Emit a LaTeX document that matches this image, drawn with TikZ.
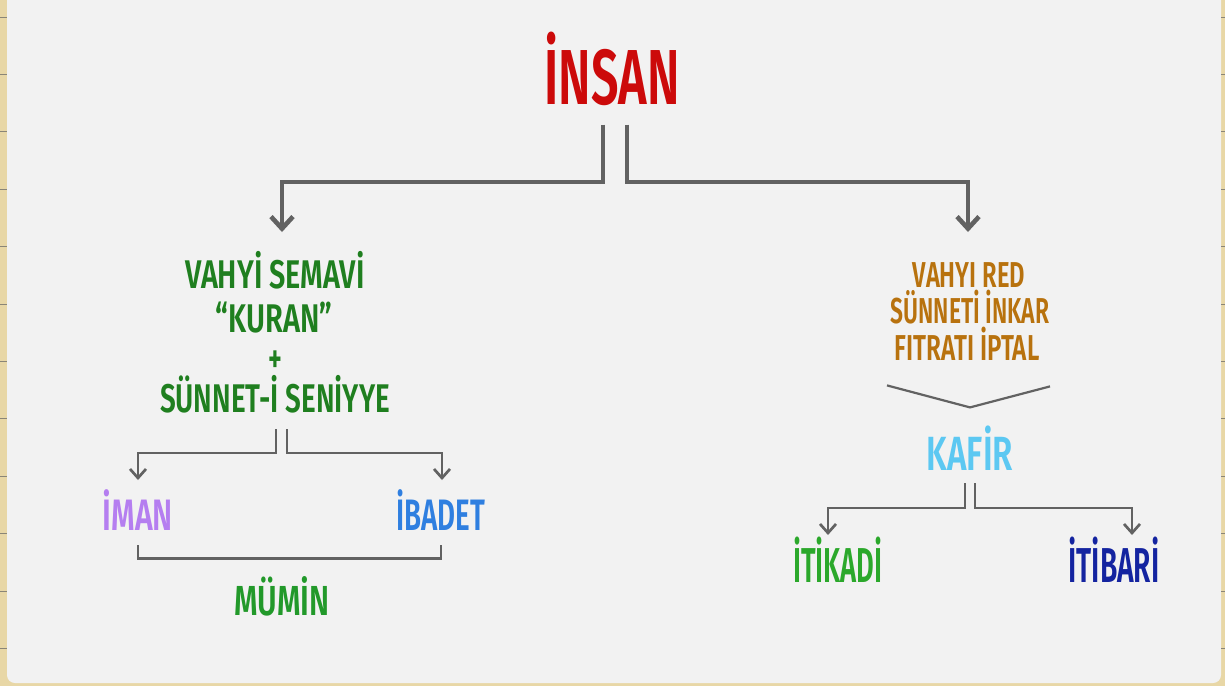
\documentclass[tikz,border=0pt]{standalone}
\usepackage{fontspec}
\setmainfont{Fira Sans}[FakeStretch=0.6, BoldFont={Fira Sans SemiBold}]
\usetikzlibrary{arrows.meta,calc}
\definecolor{bgc}{HTML}{E8D7A6}
\definecolor{panel}{HTML}{F2F2F2}
\definecolor{lgray}{HTML}{626262}
\definecolor{tick}{HTML}{8A8577}
\definecolor{cinsan}{HTML}{CC0A0A}
\definecolor{cgreen}{HTML}{1F7F1F}
\definecolor{cbrown}{HTML}{B8720E}
\definecolor{ckafir}{HTML}{5CC8F2}
\definecolor{ciman}{HTML}{B57EF0}
\definecolor{cibadet}{HTML}{2F7FE0}
\definecolor{cmumin}{HTML}{22992A}
\definecolor{citikadi}{HTML}{2BA82B}
\definecolor{citibari}{HTML}{1424A0}
\newcommand{\hs}[2]{\scalebox{#1}[1]{#2}}
\tikzset{
  lbl/.style={inner sep=0pt, anchor=base, font=\bfseries},
  bigconn/.style={draw=lgray, line width=2.3pt, -{Straight Barb[length=6pt,width=11pt]}},
  midconn/.style={draw=lgray, line width=1.35pt, -{Straight Barb[length=4.5pt,width=8pt]}},
  plainline/.style={draw=lgray, line width=1.2pt},
}
\begin{document}
\begin{tikzpicture}[x=0.5pt,y=-0.5pt]
\useasboundingbox (0,0) rectangle (1225,686);
\fill[bgc] (0,0) rectangle (1225,686);
\begin{scope}
\clip (0,0) rectangle (1225,686);
\fill[panel, rounded corners=4pt] (7,-10) rectangle (1221,683);
\end{scope}
\foreach \k in {0,...,11} {
  \draw[tick, line width=0.5pt] (0,17+57.4*\k) -- (7,17+57.4*\k);
  \draw[tick, line width=0.5pt] (1221,17+57.4*\k) -- (1225,17+57.4*\k);
}

% nodes
\node[lbl, text=cinsan, font=\bfseries\fontsize{39}{39}\selectfont] (insan) at (612,104) {\hs{1.04}{İNSAN}};
\node[lbl, text=cgreen, font=\bfseries\fontsize{20}{20}\selectfont] (v1) at (275,288) {\hs{1.2}{VAHYİ SEMAVİ}};
\node[lbl, text=cgreen, font=\bfseries\fontsize{20}{20}\selectfont] (v2) at (274,332) {\hs{1.21}{“KURAN”}};
\node[lbl, text=cgreen, font=\bfseries\fontsize{20}{20}\selectfont, text height=6pt] (v3) at (275,372) {\hs{1.1}{+}};
\node[lbl, text=cgreen, font=\bfseries\fontsize{20}{20}\selectfont] (v4) at (275,412) {\hs{1.16}{SÜNNET-İ SENİYYE}};
\node[lbl, text=cbrown, font=\bfseries\fontsize{18}{18}\selectfont] (r1) at (969,287) {\hs{1.1}{VAHYI RED}};
\node[lbl, text=cbrown, font=\bfseries\fontsize{18}{18}\selectfont] (r2) at (970,323) {\hs{1.06}{SÜNNETİ İNKAR}};
\node[lbl, text=cbrown, font=\bfseries\fontsize{18}{18}\selectfont] (r3) at (967,360) {\hs{1.12}{FITRATI İPTAL}};
\node[lbl, text=ckafir, font=\bfseries\fontsize{24}{24}\selectfont] (kafir) at (970,470) {\hs{1.15}{KAFİR}};
\node[lbl, text=ciman, font=\bfseries\fontsize{22}{22}\selectfont] (iman) at (138,530) {\hs{1.14}{İMAN}};
\node[lbl, text=cibadet, font=\bfseries\fontsize{22}{22}\selectfont] (ibadet) at (441,530) {\hs{1.05}{İBADET}};
\node[lbl, text=cmumin, font=\bfseries\fontsize{21}{21}\selectfont] (mumin) at (282,615) {\hs{1.19}{MÜMİN}};
\node[lbl, text=citikadi, font=\bfseries\fontsize{24.5}{24.5}\selectfont] (itikadi) at (838,582) {\hs{0.93}{İTİKADİ}};
\node[lbl, text=citibari, font=\bfseries\fontsize{24.5}{24.5}\selectfont] (itibari) at (1114,582) {\hs{0.96}{İTİBARİ}};

% arrow tips
\coordinate (tL) at (282,232);
\coordinate (tR) at (968,232);
\coordinate (tI) at (138,480);
\coordinate (tB) at (442,480);
\coordinate (tK) at (828,535);
\coordinate (tT) at (1132,535);

% İNSAN branches
\draw[bigconn] ([xshift=-4.5pt,yshift=-9.5pt]insan.south) |- ($(tL)+(0,-50)$) -- (tL);
\draw[bigconn] ([xshift=7.5pt,yshift=-9.5pt]insan.south) |- ($(tR)+(0,-50)$) -- (tR);

% SÜNNET branches
\draw[midconn] ([xshift=0.5pt,yshift=-8pt]v4.south) |- ($(tI)+(0,-27)$) -- (tI);
\draw[midconn] ([xshift=6pt,yshift=-8pt]v4.south) |- ($(tB)+(0,-27)$) -- (tB);

% bracket İMAN-İBADET
\draw[plainline, line width=1.3pt] ([yshift=-7.5pt]iman.south) -- ++(0,13) -| ([yshift=-7.5pt]ibadet.south);

% chevron
\draw[plainline, line width=1.1pt] ($(r3.south)+(-80,25)$) -- ($(r3.south)+(3,47)$) -- ($(r3.south)+(83,26)$);

% KAFİR branches
\draw[midconn] ([xshift=-2.5pt,yshift=-6.5pt]kafir.south) |- ($(tK)+(0,-27)$) -- (tK);
\draw[midconn] ([xshift=2.5pt,yshift=-6.5pt]kafir.south) |- ($(tT)+(0,-27)$) -- (tT);
\end{tikzpicture}
\end{document}
